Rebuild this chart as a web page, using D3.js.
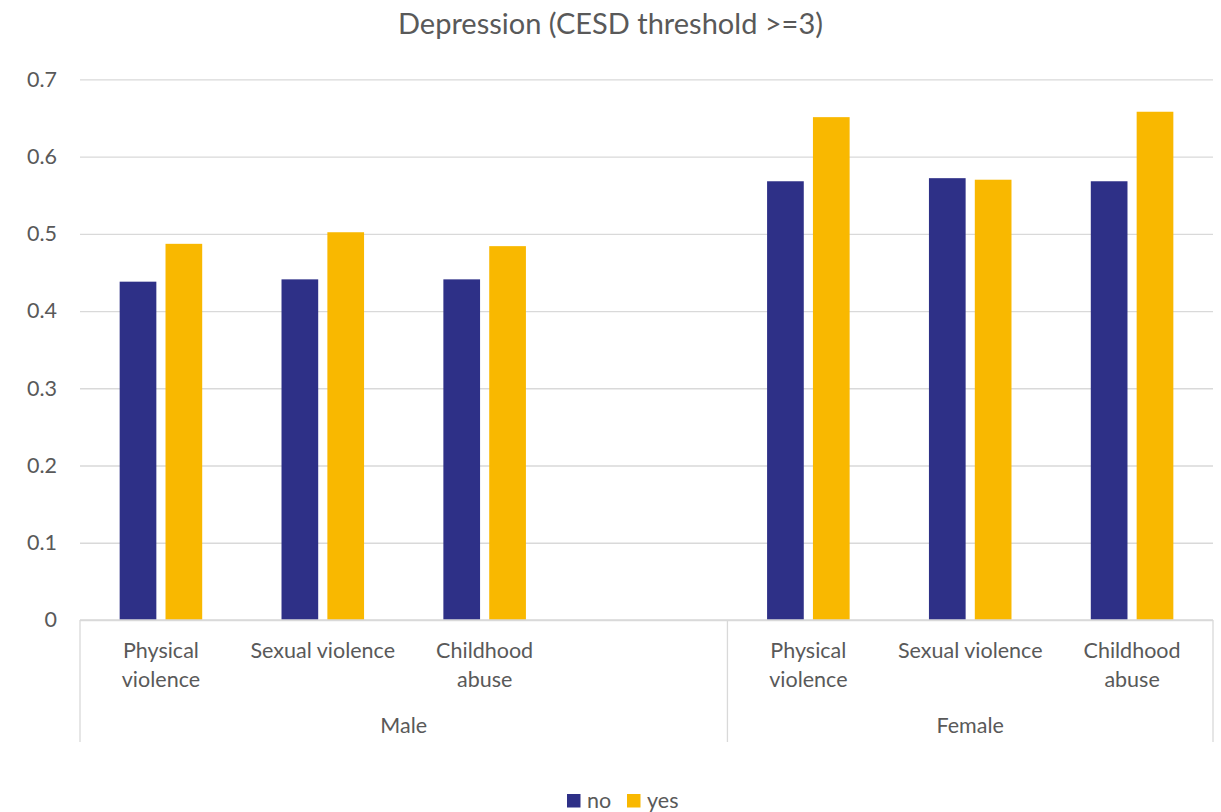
<!DOCTYPE html>
<html>
<head>
<meta charset="utf-8">
<script src="https://cdn.jsdelivr.net/npm/d3@7"></script>
<style>
  html, body { margin: 0; padding: 0; background: #fff; }
  svg { display: block; font-family: Lato, "Open Sans", sans-serif; }
</style>
</head>
<body>
<svg id="chart" width="1221" height="812"></svg>
<script>
// ---- data ----
const title = "Depression (CESD threshold >=3)";
const groups = ["Male", "Female"];
const groupCategories = [
  ["Physical violence", "Sexual violence", "Childhood abuse", ""],
  ["Physical violence", "Sexual violence", "Childhood abuse"]
];
const categoryLines = {
  "Physical violence": ["Physical", "violence"],
  "Sexual violence": ["Sexual violence"],
  "Childhood abuse": ["Childhood", "abuse"],
  "": []
};
const seriesNames = ["no", "yes"];
const noValues  = [0.438, 0.441, 0.441, null, 0.568, 0.572, 0.568];
const yesValues = [0.487, 0.502, 0.484, null, 0.651, 0.570, 0.658];
const yTicks = [0, 0.1, 0.2, 0.3, 0.4, 0.5, 0.6, 0.7];
const colors = { no: "#2E3087", yes: "#F9B800" };

// ---- layout ----
const svg = d3.select("#chart");
const W = 1221, H = 812;
const plot = { left: 80, right: 1213, top: 79.3, bottom: 620 };
const textColor = "#595959";
const gridColor = "#d9d9d9";

svg.append("rect").attr("width", W).attr("height", H).attr("fill", "#fff");

// slots
const slots = [];
groups.forEach((g, gi) => groupCategories[gi].forEach((c, ci) => slots.push({ group: g, cat: c, key: g + "|" + ci })));
const data = slots.map((s, i) => ({ ...s, no: noValues[i], yes: yesValues[i] }));

const x0 = d3.scaleBand().domain(slots.map(s => s.key)).range([plot.left, plot.right]).padding(0);
const step = x0.bandwidth();
const x1 = d3.scaleBand().domain(seriesNames).range([step * 0.245, step * 0.755]).paddingInner(0.2);
const y = d3.scaleLinear().domain([0, 0.7]).range([plot.bottom, plot.top]);

// gridlines
const yAxis = d3.axisLeft(y).tickValues(yTicks).tickSize(-(plot.right - plot.left)).tickPadding(23)
  .tickFormat(d => d === 0 ? "0" : d3.format(".1f")(d));
const gy = svg.append("g").attr("transform", `translate(${plot.left},0)`).call(yAxis);
gy.select(".domain").remove();
gy.selectAll(".tick line").attr("stroke", gridColor).attr("stroke-width", 1.3);
gy.selectAll(".tick text").attr("fill", textColor).attr("font-size", 21.5).attr("font-family", "Lato, sans-serif");

// bars
const cat = svg.append("g");
data.forEach(d => {
  seriesNames.forEach(s => {
    if (d[s] == null) return;
    cat.append("rect")
      .attr("x", x0(d.key) + x1(s))
      .attr("y", y(d[s]))
      .attr("width", x1.bandwidth())
      .attr("height", y(0) - y(d[s]))
      .attr("fill", colors[s]);
  });
});

// category axis
const axisBottom = 742;
svg.append("line").attr("x1", plot.left).attr("x2", plot.right).attr("y1", plot.bottom).attr("y2", plot.bottom)
  .attr("stroke", gridColor).attr("stroke-width", 1.3);

// group boundaries
const groupSpans = groups.map(g => {
  const keys = slots.filter(s => s.group === g).map(s => s.key);
  return { group: g, x0: x0(keys[0]), x1: x0(keys[keys.length - 1]) + step };
});
const bounds = [groupSpans[0].x0, ...groupSpans.map(s => s.x1)];
bounds.forEach(b => {
  svg.append("line").attr("x1", b).attr("x2", b).attr("y1", plot.bottom).attr("y2", axisBottom)
    .attr("stroke", gridColor).attr("stroke-width", 1.3);
});

// category labels
data.forEach(d => {
  const lines = categoryLines[d.cat] || [];
  const t = svg.append("text").attr("text-anchor", "middle").attr("fill", textColor).attr("font-size", 21.5);
  lines.forEach((ln, i) => {
    t.append("tspan").attr("x", x0(d.key) + step / 2).attr("y", 658 + i * 29).text(ln);
  });
});

// group labels
groupSpans.forEach(s => {
  svg.append("text").attr("x", (s.x0 + s.x1) / 2).attr("y", 733).attr("text-anchor", "middle")
    .attr("fill", textColor).attr("font-size", 21.5).text(s.group);
});

// title
svg.append("text").attr("x", W / 2).attr("y", 34).attr("text-anchor", "middle")
  .attr("fill", textColor).attr("font-size", 29).text(title);

// legend
const legend = svg.append("g");
const legendItems = [{ name: "no", x: 567 }, { name: "yes", x: 627 }];
legendItems.forEach(it => {
  legend.append("rect").attr("x", it.x).attr("y", 794).attr("width", 13.5).attr("height", 13.5).attr("fill", colors[it.name]);
  legend.append("text").attr("x", it.x + 20).attr("y", 807.5).attr("fill", textColor).attr("font-size", 21.5).text(it.name);
});
</script>
</body>
</html>
